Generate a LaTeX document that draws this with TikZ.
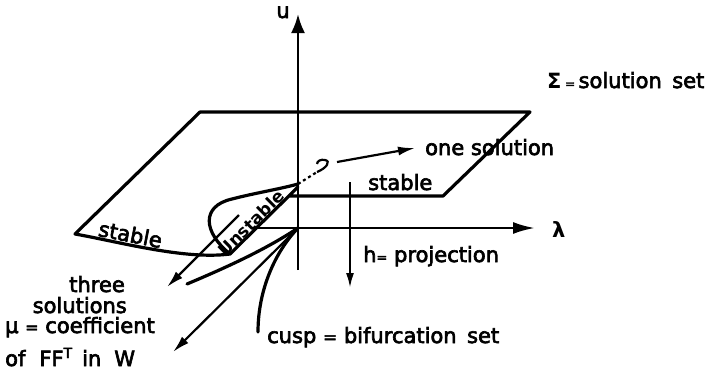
\documentclass[tikz,border=0pt]{standalone}
\usepackage{fontspec}
\setmainfont{DejaVu Sans}[UprightFeatures={FakeBold=3}]
\usetikzlibrary{arrows.meta}
\newcommand\smalleq[1]{{\fontsize{#1}{#1}\selectfont =}}
\begin{document}
\begin{tikzpicture}[x=1pt,y=-1pt,
  edge/.style={line width=3.2pt, line join=round, line cap=round},
  axis/.style={line width=2.6pt},
  thin/.style={line width=2.2pt},
  lbl/.style={font=\fontsize{21}{22}\selectfont, inner sep=0pt},
  uptip/.style={-{Latex[length=19pt,width=14pt]}},
  lamtip/.style={-{Latex[length=22pt,width=12pt]}},
  tip/.style={-{Latex[length=17pt,width=9pt]}},
  htip/.style={-{Latex[length=15pt,width=8pt]}}
]
\useasboundingbox (0,0) rectangle (715,383);
% key points
\coordinate (O) at (298,228);
\coordinate (ubot) at (298,270);
\coordinate (utop) at (298,14);
\coordinate (lamstart) at (256,228);
\coordinate (lamend) at (535,228);
\coordinate (hstart) at (350,182);
\coordinate (hend) at (350,288);
\coordinate (muend) at (173,352);
\coordinate (A) at (200,112);
\coordinate (B) at (530,112);
\coordinate (C) at (443,196);
\coordinate (D) at (289,196);
\coordinate (E) at (75,234);
\coordinate (F) at (230,254);
\coordinate (G) at (298,187);
\coordinate (L) at (298,184);
\coordinate (Lc) at (317,172);
\coordinate (onestart) at (337,162);
\coordinate (oneend) at (415,148);
\coordinate (threestart) at (239,215);
\coordinate (threeend) at (167,287);
\coordinate (c1end) at (187,284);
\coordinate (c2end) at (258,332);
% sheet
\draw[edge] (D) -- (C) -- (B) -- (A) -- (E)
  .. controls (120,242) and (185,260) .. (F) -- (G);
% fold curve
\draw[edge] (F) .. controls (203,232) and (201,206) .. (232,199)
  .. controls (255,193) and (280,189) .. (L);
\draw[thin, dash pattern=on 3pt off 3pt] (L) -- (Lc);
\draw[thin] (Lc) .. controls (327,168) and (331,161) .. (325,160)
  .. controls (321,159) and (317,161) .. (317,164);
% axes
\draw[axis, uptip] (ubot) -- (utop);
\draw[axis, lamtip] (lamstart) -- (lamend);
\draw[thin, htip] (hstart) -- (hend);
\draw[thin, tip] (O) -- (muend);
% cusp curves
\draw[edge] (O) .. controls (265,250) and (225,268) .. (c1end);
\draw[edge] (O) .. controls (275,252) and (258,290) .. (c2end);
% pointers
\draw[thin, tip] (onestart) -- (oneend);
\draw[thin, tip] (threestart) -- (threeend);
% labels
\node[lbl, anchor=base] (ulab) at (283,18) {u};
\node[lbl, anchor=base west] (lamlab) at (552,237) {\bfseries λ};
\node[lbl, anchor=base west] (sigma) at (547,88) {\bfseries Σ\mdseries\,\smalleq{12}\,solution\hspace{0.5em}set};
\node[lbl, anchor=base west] (one) at (425,155) {one solution};
\node[lbl, anchor=base west] (stab1) at (368,190) {stable};
\node[lbl, anchor=base, rotate=-11] (stab2) at (129,242) {stable};
\node[inner sep=0pt, anchor=south, rotate=44.6, font=\fontsize{17}{17}\selectfont\bfseries] (unst) at (256,228) {Unstable};
\node[lbl, anchor=base west] (proj) at (363,262) {h\smalleq{13}\ projection};
\node[lbl, anchor=base west] (cusp) at (267,343) {cusp \smalleq{17} bifurcation\hspace{0.5em}set};
\node[lbl, anchor=base east] (three) at (125,292) {three};
\node[lbl, anchor=base east] (sols) at (127,313) {solutions};
\node[lbl, anchor=base west] (mu) at (5,333) {μ \smalleq{16} coefficient};
\node[lbl, anchor=base west] (ff) at (5,366) {of\hspace{14pt}FF\raisebox{8pt}{\fontsize{14}{14}\selectfont T}\hspace{10pt}in\hspace{13pt}W};
\end{tikzpicture}
\end{document}
